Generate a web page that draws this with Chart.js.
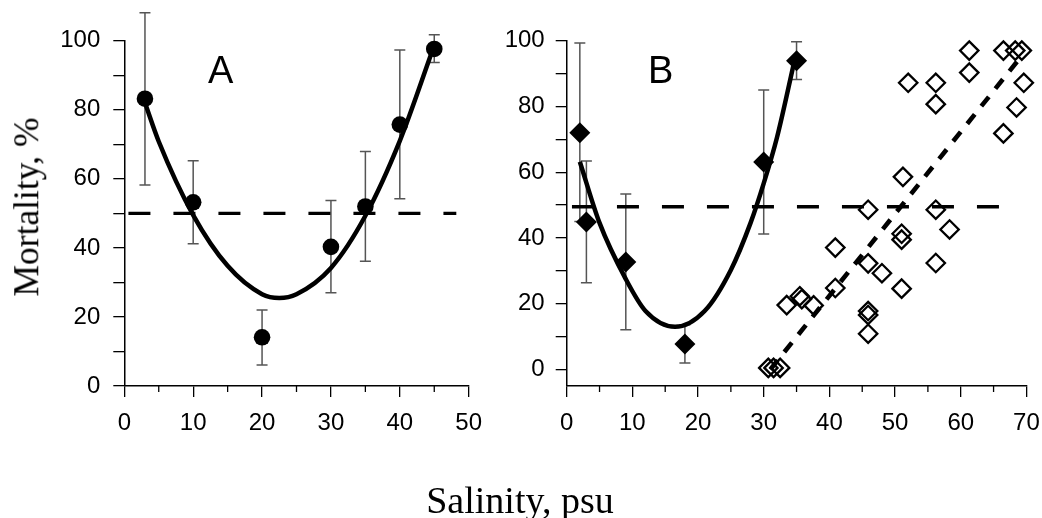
<!DOCTYPE html>
<html>
<head>
<meta charset="utf-8">
<script src="https://cdn.jsdelivr.net/npm/chart.js@4/dist/chart.umd.min.js"></script>
<style>
  html, body { margin: 0; padding: 0; background: #fff; }
  #wrap { position: relative; width: 1042px; height: 518px; overflow: hidden; background: #fff; }
  #cA { position: absolute; left: 0; top: 0; }
  #cB { position: absolute; left: 490px; top: 0; }
  .ttl { position: absolute; font-family: 'Liberation Serif', 'Times New Roman', serif; color: #000;
         line-height: 1; white-space: nowrap; }
  #yTitle { left: 27px; top: 207px; font-size: 35.5px; transform: translate(-50%, -50%) rotate(-90deg); }
  #xTitle { left: 520px; top: 500px; font-size: 38px; transform: translate(-50%, -50%); }
</style>
</head>
<body>
<div id="wrap">
  <canvas id="cA" width="490" height="518" style="width:490px;height:518px"></canvas>
  <canvas id="cB" width="552" height="518" style="width:552px;height:518px"></canvas>
  <div class="ttl" id="yTitle">Mortality, %</div>
  <div class="ttl" id="xTitle">Salinity, psu</div>
</div>
<script>
// ---- Panel A: mean mortality (±SD) vs salinity, with quadratic trend ----
const salinityA   = [3, 10, 20, 30, 35, 40, 45];
const mortalityA  = [83.2, 53.2, 14.1, 40.3, 52.0, 75.7, 97.6];
const errLowA     = [58.2, 41.2, 6.1, 27.0, 36.1, 54.2, 93.7];
const errHighA    = [108.1, 65.2, 22.0, 53.7, 67.9, 97.3, 101.7];
const trendAx     = [3, 5, 10, 15, 20, 22.5, 25, 30, 35, 40, 44.8];
const trendAy     = [82, 70.8, 49.5, 34.8, 26.6, 25.5, 26.6, 34.2, 49.3, 71, 97.5];
const refLineAx   = [0.6, 48.2];
const refLineAy   = [50, 50];

// ---- Panel B: mean mortality (filled) and single trials (open) ----
const salinityB   = [2, 3, 9, 18, 30, 35];
const mortalityB  = [72.0, 44.9, 32.7, 7.8, 63.1, 93.9];
const errLowB     = [45.0, 26.4, 12.1, 2.0, 41.2, 88.2];
const errHighB    = [99.3, 63.4, 53.4, 13.6, 85.0, 99.7];
const trendBx     = [2, 5, 9, 12, 16.5, 21, 25, 28, 30, 32, 34.8];
const trendBy     = [63.2, 44.6, 27.5, 17.8, 13, 17.8, 30.3, 44.6, 56.6, 70.4, 95];
const trialsBx    = [61.3, 61.3, 66.5, 68.3, 69.3, 52.0, 56.2, 56.2, 69.6, 68.5, 66.5,
                     51.2, 45.9, 56.2, 58.3, 51.0, 51.0, 40.9, 45.9, 48.0, 56.2, 51.0,
                     40.9, 35.5, 35.8, 37.6, 33.5, 45.9, 45.9, 45.9, 30.7, 31.5, 32.5];
const trialsBy    = [97.0, 90.3, 97.0, 97.0, 97.0, 87.2, 87.2, 80.7, 87.2, 79.7, 71.8,
                     58.6, 48.6, 48.6, 42.6, 41.3, 39.5, 37.1, 32.3, 29.3, 32.4, 24.6,
                     24.8, 22.3, 21.4, 19.5, 19.6, 17.8, 16.6, 10.9, 0.5, 0.5, 0.5];
const regBx       = [31, 69];
const regBy       = [0, 94.7];
const refLineBx   = [0.8, 67];
const refLineBy   = [49.5, 49.5];

// ---- Axis ticks ----
const xTicksA      = [0, 10, 20, 30, 40, 50];
const xMinorA      = [5, 15, 25, 35, 45];
const xTicksB      = [0, 10, 20, 30, 40, 50, 60, 70];
const xMinorB      = [5, 15, 25, 35, 45, 55, 65];
const yTicks       = [0, 10, 20, 30, 40, 50, 60, 70, 80, 90, 100];
const yLabelStep   = 20;

const pts = (xs, ys) => xs.map((v, i) => ({ x: v, y: ys[i] }));
const TICK_FONT = { family: "'Liberation Sans', Arial, sans-serif", size: 24 };

// Error bars, minor x ticks and the panel letter
function panelDecor(cfg) {
  return {
    id: 'panelDecor',
    beforeDatasetsDraw(chart) {
      const { ctx, scales: { x, y } } = chart;
      ctx.save();
      ctx.strokeStyle = '#555';
      ctx.lineWidth = 1.5;
      cfg.errX.forEach((xv, i) => {
        const px = x.getPixelForValue(xv);
        const lo = y.getPixelForValue(cfg.errLo[i]);
        const hi = y.getPixelForValue(cfg.errHi[i]);
        ctx.beginPath();
        ctx.moveTo(px, lo); ctx.lineTo(px, hi);
        ctx.moveTo(px - 5.5, lo); ctx.lineTo(px + 5.5, lo);
        ctx.moveTo(px - 5.5, hi); ctx.lineTo(px + 5.5, hi);
        ctx.stroke();
      });
      ctx.restore();
    },
    afterDraw(chart) {
      const { ctx, scales: { x, y }, chartArea } = chart;
      ctx.save();
      ctx.strokeStyle = '#000';
      ctx.lineWidth = 1.3;
      cfg.minor.forEach(v => {
        const px = x.getPixelForValue(v);
        ctx.beginPath();
        ctx.moveTo(px, chartArea.bottom);
        ctx.lineTo(px, chartArea.bottom + 6);
        ctx.stroke();
      });
      ctx.fillStyle = '#000';
      ctx.font = "38px 'Liberation Sans', Arial, sans-serif";
      ctx.textAlign = 'center';
      ctx.textBaseline = 'alphabetic';
      ctx.fillText(cfg.letter, x.getPixelForValue(cfg.letterAt[0]), y.getPixelForValue(cfg.letterAt[1]));
      ctx.restore();
    }
  };
}

function scales(xMax, xTicks, yMin, yAxisWidth, yPad) {
  return {
    x: {
      type: 'linear', min: 0, max: xMax, position: 'bottom',
      afterBuildTicks: s => { s.ticks = xTicks.map(v => ({ value: v })); },
      afterFit: s => { s.height = 132; s.paddingLeft = 0; s.paddingRight = 0; },
      grid: { drawOnChartArea: false, drawTicks: true, tickLength: 11, color: '#000', lineWidth: 1.3 },
      border: { display: true, color: '#000', width: 1.5 },
      ticks: { font: TICK_FONT, color: '#000', padding: 12, autoSkip: false, maxRotation: 0 }
    },
    y: {
      type: 'linear', min: yMin, max: 100, position: 'left',
      afterBuildTicks: s => { s.ticks = yTicks.map(v => ({ value: v })); },
      afterFit: s => { s.width = yAxisWidth; s.paddingTop = 0; s.paddingBottom = 0; },
      grid: { drawOnChartArea: false, drawTicks: true, tickLength: 11, color: '#000', lineWidth: 1.3 },
      border: { display: true, color: '#000', width: 1.5 },
      ticks: {
        font: TICK_FONT, color: '#000', padding: yPad, autoSkip: false,
        callback: v => (v % yLabelStep === 0 ? String(v) : '')
      }
    }
  };
}

const common = {
  responsive: false,
  animation: false,
  events: [],
  plugins: { legend: { display: false }, tooltip: { enabled: false } }
};

new Chart(document.getElementById('cA'), {
  type: 'scatter',
  data: {
    datasets: [
      { data: pts(salinityA, mortalityA), pointStyle: 'circle', pointRadius: 8.3,
        backgroundColor: '#000', borderColor: '#000', borderWidth: 0, order: 0, clip: false },
      { data: pts(trendAx, trendAy), showLine: true, pointRadius: 0, borderColor: '#000',
        borderWidth: 4.5, cubicInterpolationMode: 'monotone', fill: false, order: 1, clip: false },
      { data: pts(refLineAx, refLineAy), showLine: true, pointRadius: 0, borderColor: '#000',
        borderWidth: 3.3, borderDash: [22, 23], borderCapStyle: 'butt', fill: false, order: 2, clip: false }
    ]
  },
  options: Object.assign({}, common, {
    layout: { padding: { top: 40.7, right: 21.3, left: 0, bottom: 0 } },
    scales: scales(50, xTicksA, 0, 124.3, 13)
  }),
  plugins: [panelDecor({ errX: salinityA, errLo: errLowA, errHi: errHighA, minor: xMinorA,
                         letter: 'A', letterAt: [14, 87.7] })]
});

new Chart(document.getElementById('cB'), {
  type: 'scatter',
  data: {
    datasets: [
      { data: pts(salinityB, mortalityB), pointStyle: 'rectRot', pointRadius: 10.5,
        backgroundColor: '#000', borderColor: '#000', borderWidth: 0, order: 0, clip: false },
      { data: pts(trialsBx, trialsBy), pointStyle: 'rectRot', pointRadius: 9.2,
        backgroundColor: 'rgba(0,0,0,0)', borderColor: '#000', borderWidth: 2.3, order: 1, clip: false },
      { data: pts(trendBx, trendBy), showLine: true, pointRadius: 0, borderColor: '#000',
        borderWidth: 4.5, cubicInterpolationMode: 'monotone', fill: false, order: 2, clip: false },
      { data: pts(regBx, regBy), showLine: true, pointRadius: 0, borderColor: '#000',
        borderWidth: 4.6, borderDash: [12, 10.5], borderCapStyle: 'butt', fill: false, order: 3, clip: false },
      { data: pts(refLineBx, refLineBy), showLine: true, pointRadius: 0, borderColor: '#000',
        borderWidth: 3.3, borderDash: [22, 23], borderCapStyle: 'butt', fill: false, order: 4, clip: false }
    ]
  },
  options: Object.assign({}, common, {
    layout: { padding: { top: 40.7, right: 15.6, left: 0, bottom: 0 } },
    scales: scales(70, xTicksB, -5, 76.7, 11)
  }),
  plugins: [panelDecor({ errX: salinityB, errLo: errLowB, errHi: errHighB, minor: xMinorB,
                         letter: 'B', letterAt: [14.3, 87.0] })]
});
</script>
</body>
</html>
